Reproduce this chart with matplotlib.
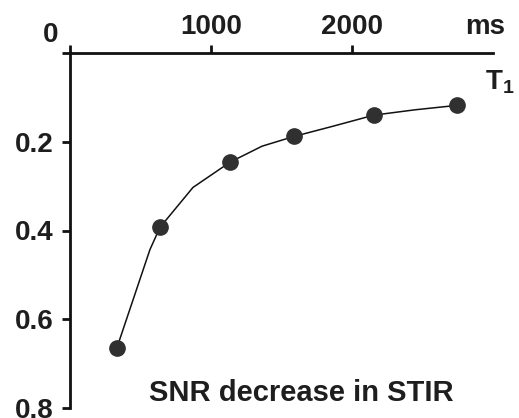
import matplotlib
matplotlib.use("Agg")
import matplotlib.pyplot as plt

# measured points (T1 in ms, relative SNR decrease)
t1_pts = [333, 638, 1135, 1589, 2156, 2745]
snr_pts = [0.664, 0.393, 0.246, 0.188, 0.140, 0.118]

# drawn curve through the points (with the bends seen between them)
t1_curve = [333, 567, 638, 872, 1135, 1362, 1589, 1865, 2156, 2447, 2745]
snr_curve = [0.664, 0.443, 0.393, 0.303, 0.246, 0.210, 0.188, 0.165, 0.140, 0.128, 0.118]

x_ticks = [0, 1000, 2000]
x_labels = ["", "1000", "2000"]
y_ticks = [0, 0.2, 0.4, 0.6, 0.8]
y_labels = ["", "0.2", "0.4", "0.6", "0.8"]

plt.rcParams["font.family"] = ["Liberation Sans", "DejaVu Sans"]
plt.rcParams["font.weight"] = "bold"
plt.rcParams["mathtext.fontset"] = "custom"
plt.rcParams["mathtext.bf"] = "Liberation Sans:bold"
plt.rcParams["mathtext.rm"] = "Liberation Sans:bold"

txt = "#1e1e1e"
dark = "#303030"

fig = plt.figure(figsize=(5.19, 4.18), dpi=100)
ax = fig.add_axes([70 / 519, 1 - 408 / 418, 423 / 519, 355 / 418])

ax.plot(t1_curve, snr_curve, "-", color="#111111", linewidth=1.1, zorder=2)
ax.plot(t1_pts, snr_pts, "o", color=dark, markersize=11, zorder=3)

ax.set_xlim(0, 3000)
ax.set_ylim(0.8, 0)

for s in ["right", "bottom"]:
    ax.spines[s].set_visible(False)
for s in ["top", "left"]:
    ax.spines[s].set_linewidth(2)
    ax.spines[s].set_color("#111111")

ax.xaxis.tick_top()
ax.set_xticks(x_ticks)
ax.set_xticklabels(x_labels)
ax.set_yticks(y_ticks)
ax.set_yticklabels(y_labels)
ax.tick_params(axis="both", direction="out", length=6, width=2, color="#111111",
               labelsize=20, labelcolor=txt, pad=6)
ax.tick_params(axis="x", pad=3)

ax.annotate("0", xy=(0, 0), xycoords="data", xytext=(-14, 13), textcoords="offset points",
            ha="center", va="center", fontsize=20, color=txt, fontweight="bold",
            annotation_clip=False)
ax.annotate("ms", xy=(3000, 0), xycoords="data", xytext=(-6, 19), textcoords="offset points",
            ha="center", va="center", fontsize=20, color=txt, fontweight="bold",
            annotation_clip=False)
ax.annotate(r"$\mathbf{T_1}$", xy=(3000, 0), xycoords="data", xytext=(5, -21),
            textcoords="offset points", ha="center", va="center", fontsize=20, color=txt,
            annotation_clip=False)
ax.text(0.546, 0.042, "SNR decrease in STIR", transform=ax.transAxes, ha="center", va="center",
        fontsize=21, color=txt, fontweight="bold")

fig.savefig("out.png", dpi=100)
